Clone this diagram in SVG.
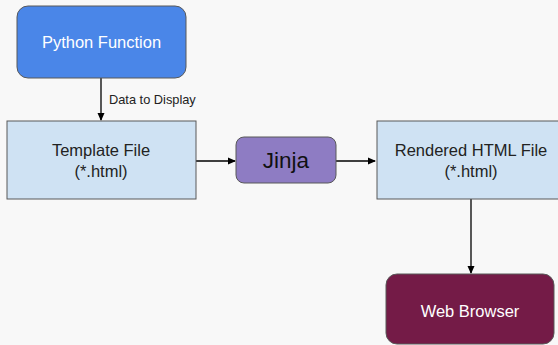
<svg xmlns="http://www.w3.org/2000/svg" width="558" height="345" viewBox="0 0 558 345">
<defs>
<style>
text{font-family:"Liberation Sans",Arial,sans-serif;text-anchor:middle}
.box{stroke:#595959;stroke-width:1}
.lbl{font-size:16.5px;fill:#222}
.wlbl{font-size:16.5px;fill:#fff}
.edge{stroke:#000;stroke-width:1.3;fill:none;marker-end:url(#ah)}
</style>
<marker id="ah" markerWidth="8" markerHeight="8" refX="7" refY="4" orient="auto" markerUnits="userSpaceOnUse">
<path d="M0,0.5 L8,4 L0,7.5 z" fill="#000"/>
</marker>
</defs>
<rect width="558" height="345" fill="#f8f8f8"/>
<g id="connectors">
<path class="edge" d="M101,78 V120"/>
<text x="109" y="104" style="font-size:12.8px;text-anchor:start;fill:#222">Data to Display</text>
<path class="edge" d="M196,161 H235"/>
<path class="edge" d="M336,161 H375"/>
<path class="edge" d="M471,199 V273"/>
</g>
<g id="python">
<rect class="box" x="17" y="6" width="169" height="72" rx="11" fill="#4a86e8"/>
<text class="wlbl" x="101.5" y="48">Python Function</text>
</g>
<g id="template">
<rect class="box" x="7" y="121" width="189" height="78" fill="#cfe2f3"/>
<text class="lbl" x="101" y="156">Template File</text>
<text class="lbl" x="101" y="177">(*.html)</text>
</g>
<g id="jinja">
<rect class="box" x="236" y="137" width="100" height="46" rx="8" fill="#8e7cc3"/>
<text x="286" y="168" style="font-size:22.5px;fill:#111">Jinja</text>
</g>
<g id="rendered">
<rect class="box" x="377" y="121" width="190" height="78" fill="#cfe2f3"/>
<text class="lbl" x="471" y="156">Rendered HTML File</text>
<text class="lbl" x="471" y="177">(*.html)</text>
</g>
<g id="browser">
<rect class="box" x="386" y="274" width="168" height="70" rx="11" fill="#741b47"/>
<text class="wlbl" x="470" y="317">Web Browser</text>
</g>
</svg>
